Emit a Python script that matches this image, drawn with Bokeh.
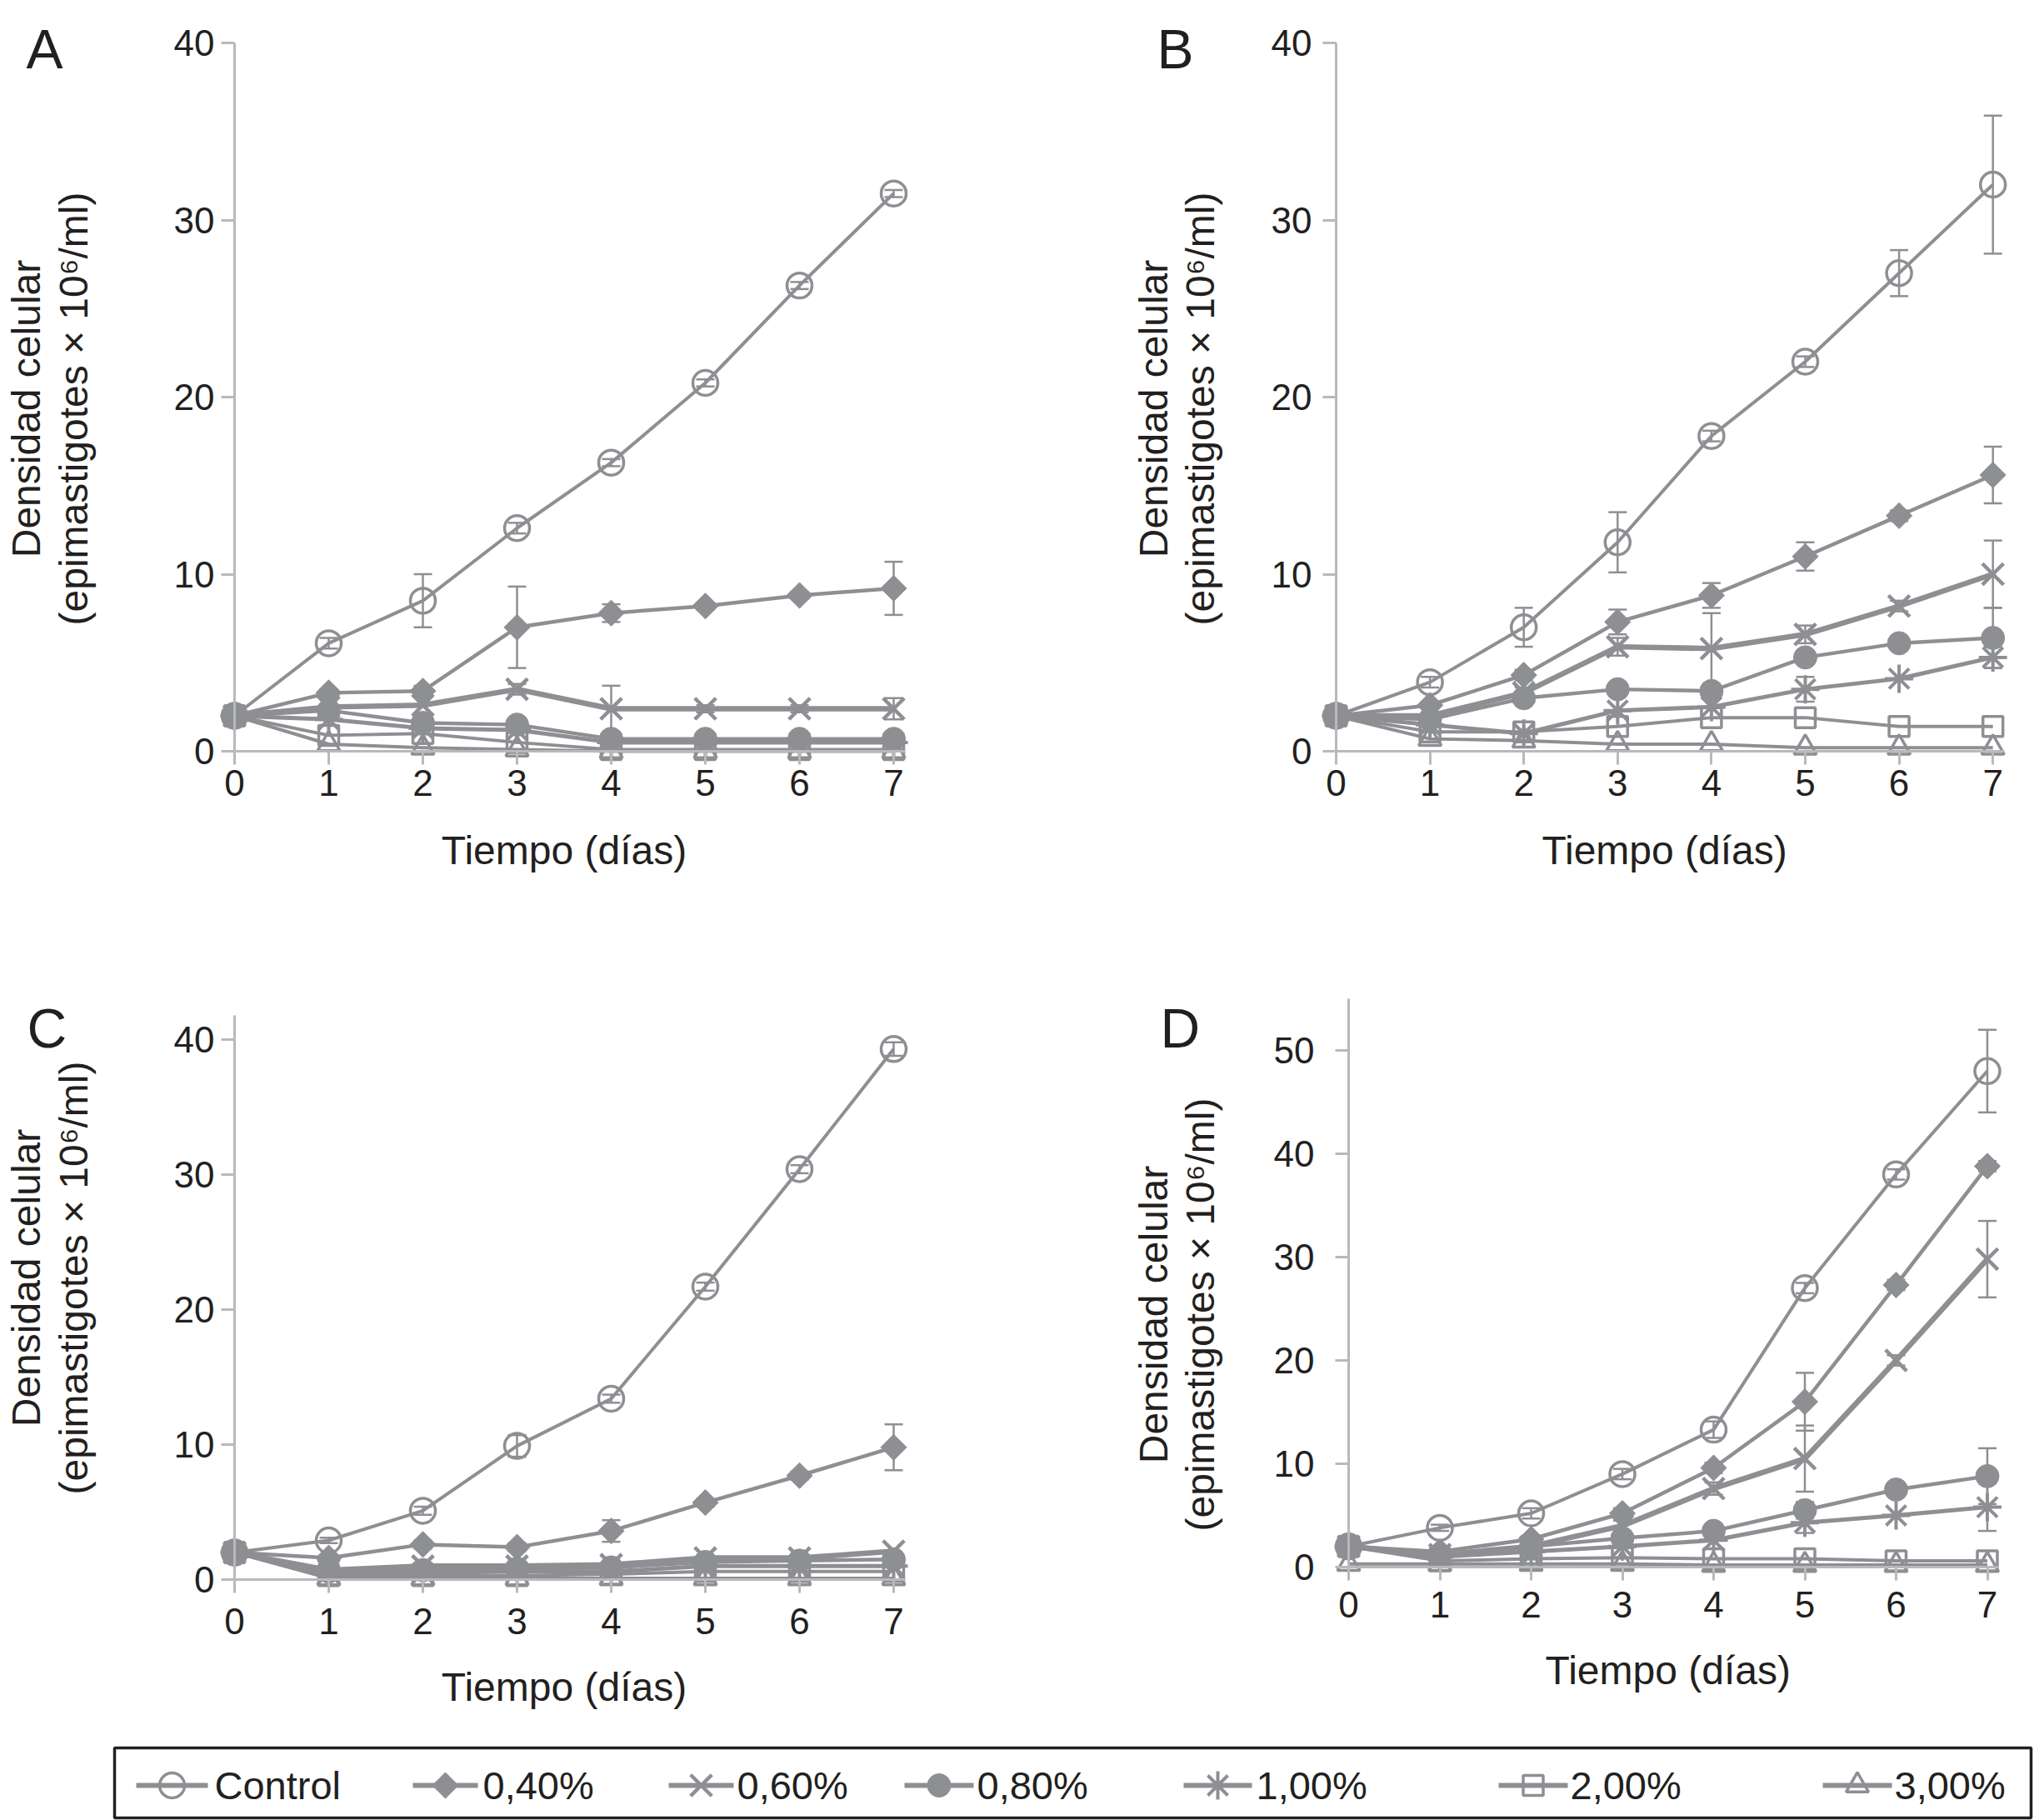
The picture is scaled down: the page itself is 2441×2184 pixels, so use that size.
import math
from bokeh.plotting import figure
from bokeh.models import (Range1d, LinearAxis, FixedTicker, Label, Whisker,
                          TeeHead, ColumnDataSource)
from bokeh.layouts import column, row
from bokeh.embed import file_html
from bokeh.resources import INLINE
from bokeh.core.properties import value

# ---------------- data ----------------
days = [0, 1, 2, 3, 4, 5, 6, 7]
series_labels = ["Control", "0,40%", "0,60%", "0,80%", "1,00%", "2,00%", "3,00%"]
y_ticks_40 = [0, 10, 20, 30, 40]
y_ticks_50 = [0, 10, 20, 30, 40, 50]
x_title = "Tiempo (días)"
y_title_1 = "Densidad celular"
y_title_2 = "(epimastigotes × 10⁶/ml)"
panel_letters = ["A", "B", "C", "D"]

# Panel A
a_control = [2.0, 6.1, 8.5, 12.6, 16.3, 20.8, 26.3, 31.5]
a_040 = [2.0, 3.3, 3.4, 7.0, 7.8, 8.2, 8.8, 9.2]
a_060 = [2.0, 2.5, 2.6, 3.5, 2.4, 2.4, 2.4, 2.4]
a_080 = [2.0, 2.3, 1.6, 1.5, 0.7, 0.7, 0.7, 0.7]
a_100 = [2.0, 1.8, 1.3, 1.2, 0.5, 0.5, 0.5, 0.5]
a_200 = [2.0, 0.9, 1.0, 0.5, 0.1, 0.1, 0.1, 0.1]
a_300 = [2.0, 0.4, 0.2, 0.1, 0.0, 0.0, 0.0, 0.0]
a_control_err = [0, 0.3, 1.5, 0.3, 0.2, 0.2, 0.2, 0.2]
a_040_err = [0, 0.2, 0.3, 2.3, 0.5, 0.2, 0.2, 1.5]
a_060_err = [0, 0, 0, 0.3, 1.3, 0.2, 0.2, 0.6]

# Panel B
b_control = [2.0, 3.9, 7.0, 11.8, 17.8, 22.0, 27.0, 32.0]
b_040 = [2.0, 2.6, 4.3, 7.3, 8.8, 11.0, 13.3, 15.6]
b_060 = [2.0, 2.0, 3.3, 5.9, 5.8, 6.6, 8.2, 10.0]
b_080 = [2.0, 1.8, 3.0, 3.5, 3.4, 5.3, 6.1, 6.4]
b_100 = [2.0, 1.5, 1.0, 2.3, 2.5, 3.5, 4.1, 5.3]
b_200 = [2.0, 1.1, 1.1, 1.4, 1.9, 1.9, 1.4, 1.4]
b_300 = [2.0, 0.7, 0.6, 0.4, 0.4, 0.2, 0.2, 0.2]
b_control_err = [0, 0.3, 1.1, 1.7, 0.3, 0.3, 1.3, 3.9]
b_040_err = [0, 0.2, 0.3, 0.7, 0.7, 0.8, 0.3, 1.6]
b_060_err = [0, 0.2, 0.3, 0.5, 2.0, 0.5, 0.3, 1.9]
b_080_err = [0, 0, 0, 0, 0, 0, 0, 1.7]
b_100_err = [0, 0, 0, 0, 0, 0.7, 0, 0.6]

# Panel C
c_control = [2.0, 2.9, 5.1, 9.9, 13.4, 21.7, 30.4, 39.3]
c_040 = [2.0, 1.6, 2.6, 2.4, 3.6, 5.7, 7.7, 9.8]
c_060 = [2.0, 0.7, 1.0, 1.0, 1.1, 1.6, 1.6, 2.1]
c_080 = [2.0, 0.6, 0.7, 0.8, 0.9, 1.3, 1.4, 1.5]
c_100 = [2.0, 0.5, 0.5, 0.6, 0.6, 1.0, 1.0, 1.0]
c_200 = [2.0, 0.3, 0.3, 0.3, 0.4, 0.6, 0.6, 0.6]
c_300 = [2.0, 0.1, 0.1, 0.1, 0.1, 0.1, 0.1, 0.1]
c_control_err = [0, 0.2, 0.3, 0.8, 0.3, 0.3, 0.3, 0.5]
c_040_err = [0, 0.2, 0.3, 0.3, 0.8, 0.3, 0.3, 1.7]

# Panel D
d_control = [2.0, 3.8, 5.2, 9.0, 13.3, 27.0, 38.0, 48.0]
d_040 = [2.0, 1.5, 2.7, 5.2, 9.6, 16.0, 27.3, 38.8]
d_060 = [2.0, 1.2, 2.0, 4.0, 7.6, 10.5, 20.0, 29.8]
d_080 = [2.0, 1.2, 2.0, 2.8, 3.5, 5.5, 7.5, 8.8]
d_100 = [2.0, 1.0, 1.5, 2.0, 2.6, 4.3, 5.0, 5.8]
d_200 = [2.0, 0.6, 0.8, 0.9, 0.8, 0.8, 0.6, 0.6]
d_300 = [0.3, 0.3, 0.3, 0.3, 0.2, 0.2, 0.2, 0.2]
d_control_err = [0, 0.3, 0.5, 0.5, 0.8, 0.5, 0.5, 4.0]
d_040_err = [0, 0.2, 0.3, 0.5, 0.5, 2.8, 0.5, 0.5]
d_060_err = [0, 0.2, 0.3, 0.5, 0.6, 3.2, 0.5, 3.7]
d_080_err = [0, 0, 0, 0, 0, 0.8, 0, 2.7]
d_100_err = [0, 0, 0, 0, 0, 1.0, 0, 2.3]

zeros = [0] * 8
panel_series = [
    [a_control, a_040, a_060, a_080, a_100, a_200, a_300],
    [b_control, b_040, b_060, b_080, b_100, b_200, b_300],
    [c_control, c_040, c_060, c_080, c_100, c_200, c_300],
    [d_control, d_040, d_060, d_080, d_100, d_200, d_300],
]
panel_errors = [
    [a_control_err, a_040_err, a_060_err, zeros, zeros, zeros, zeros],
    [b_control_err, b_040_err, b_060_err, b_080_err, b_100_err, zeros, zeros],
    [c_control_err, c_040_err, zeros, zeros, zeros, zeros, zeros],
    [d_control_err, d_040_err, d_060_err, d_080_err, d_100_err, zeros, zeros],
]

# ---------------- style / layout ----------------
GRAY = "#8e8f93"
AXIS = "#b9b9bb"
TXT = "#231f20"
FONT = "Liberation Sans"

# marker, filled, size, marker line width, series line width, angle
styles = [
    ("circle", False, 30, 3.5, 4, 0.0),
    ("square", True, 22, 1, 4.5, math.pi / 4),
    ("x", False, 36, 4.5, 6.5, 0.0),
    ("circle", True, 28, 1, 4.5, 0.0),
    ("asterisk", False, 34, 4, 5, 0.0),
    ("square", False, 24, 3.5, 4, 0.0),
    ("triangle", False, 27, 3.5, 4, 0.0),
]

# page-pixel layout of each panel (page origin = top-left of the picture)
specs = [
    dict(fig=(0, 0), size=(1220, 1088), origin=(281, 901), ux=113.0, uy=21.25,
         ybound=40, yticks=y_ticks_40, ystand=8, xstand=6,
         ytx=(31, 88), yty=490, xty=1020, let=(31, 58)),
    dict(fig=(1220, 0), size=(1221, 1088), origin=(1603, 901), ux=112.6, uy=21.25,
         ybound=40, yticks=y_ticks_40, ystand=13, xstand=6,
         ytx=(1384, 1440), yty=490, xty=1020, let=(1388, 58)),
    dict(fig=(0, 1088), size=(1220, 1000), origin=(281, 1895), ux=113.0, uy=16.2,
         ybound=41.8, yticks=y_ticks_40, ystand=8, xstand=18,
         ytx=(31, 88), yty=1533, xty=2024, let=(32, 1233)),
    dict(fig=(1220, 1088), size=(1221, 1000), origin=(1618, 1880), ux=109.5, uy=12.4,
         ybound=55, yticks=y_ticks_50, ystand=25, xstand=13,
         ytx=(1384, 1440), yty=1577, xty=2004, let=(1392, 1233)),
]


def build_panel(letter, series, errors, spec):
    fx, fy = spec["fig"]
    w, h = spec["size"]
    ox = spec["origin"][0] - fx
    oy = spec["origin"][1] - fy
    ux, uy = spec["ux"], spec["uy"]
    xr = Range1d(-ox / ux, (w - ox) / ux)
    yr = Range1d((oy - h) / uy, oy / uy)
    p = figure(width=w, height=h, x_range=xr, y_range=yr,
               x_axis_type=None, y_axis_type=None,
               toolbar_location=None, output_backend="svg", min_border=0)
    p.outline_line_color = None
    p.background_fill_color = "white"
    p.border_fill_color = "white"

    def dx(X):
        return (X - fx - ox) / ux

    def dy(Y):
        return (oy - (Y - fy)) / uy

    xa = LinearAxis(fixed_location=0, bounds=(0, 7.12),
                    ticker=FixedTicker(ticks=days, minor_ticks=[]))
    ya = LinearAxis(fixed_location=0, bounds=(0, spec["ybound"]),
                    ticker=FixedTicker(ticks=spec["yticks"], minor_ticks=[]))
    for ax, st in ((xa, spec["xstand"]), (ya, spec["ystand"])):
        ax.axis_line_color = AXIS
        ax.axis_line_width = 3
        ax.major_tick_line_color = AXIS
        ax.major_tick_line_width = 3
        ax.major_tick_out = 16
        ax.major_tick_in = 0
        ax.minor_tick_line_color = None
        ax.major_label_text_font = FONT
        ax.major_label_text_font_size = "44px"
        ax.major_label_text_color = TXT
        ax.major_label_standoff = st
    p.add_layout(xa, "below")
    p.add_layout(ya, "left")

    # error bars
    for vals, err in zip(series, errors):
        base = [d for d, e in zip(days, err) if e > 0]
        if not base:
            continue
        lo = [v - e for v, e in zip(vals, err) if e > 0]
        hi = [v + e for v, e in zip(vals, err) if e > 0]
        src = ColumnDataSource(dict(base=base, lower=lo, upper=hi))
        wk = Whisker(source=src, base="base", lower="lower", upper="upper",
                     line_color=GRAY, line_width=2.5,
                     upper_head=TeeHead(size=22, line_color=GRAY, line_width=2.5),
                     lower_head=TeeHead(size=22, line_color=GRAY, line_width=2.5))
        p.add_layout(wk)

    order = list(range(len(series)))[::-1]
    for i in order:
        p.line(days, series[i], line_color=GRAY, line_width=styles[i][4])
    for i in order:
        mk, filled, size, mlw, _, ang = styles[i]
        p.scatter(days, series[i], marker=mk, size=size, angle=ang, line_color=GRAY,
                  line_width=mlw, fill_color=GRAY if filled else None)

    # titles and panel letter
    for X, txt in zip(spec["ytx"], (y_title_1, y_title_2)):
        p.add_layout(Label(x=dx(X), y=dy(spec["yty"]), text=txt, angle=math.pi / 2,
                           text_align="center", text_baseline="middle",
                           text_font=FONT, text_font_size="48px", text_color=TXT))
    p.add_layout(Label(x=3.5, y=dy(spec["xty"]), text=x_title,
                       text_align="center", text_baseline="middle",
                       text_font=FONT, text_font_size="48px", text_color=TXT))
    p.add_layout(Label(x=dx(spec["let"][0]), y=dy(spec["let"][1]), text=letter,
                       text_align="left", text_baseline="alphabetic",
                       text_font=FONT, text_font_size="66px", text_color=TXT))
    return p


panels = [build_panel(l, s, e, sp) for l, s, e, sp in
          zip(panel_letters, panel_series, panel_errors, specs)]

# ---------------- legend strip ----------------
LW, LH, LTOP = 2441, 96, 2088
lg = figure(width=LW, height=LH, x_range=Range1d(0, LW), y_range=Range1d(0, LH),
            x_axis_type=None, y_axis_type=None, toolbar_location=None,
            output_backend="svg", min_border=0)
lg.outline_line_color = None


def lx(X):
    return X


def ly(Y):
    return LTOP + LH - Y


lg.quad(left=lx(137), right=lx(2437), bottom=ly(2181), top=ly(2097),
        fill_color=None, line_color=TXT, line_width=3.5)

legend_line_x0 = [163, 495, 802, 1085, 1420, 1798, 2187]
legend_line_x1 = [249, 573, 880, 1168, 1502, 1881, 2270]
legend_text_x = [257, 579, 884, 1172, 1507, 1884, 2273]
legend_y = 2142

for i in range(len(series_labels)):
    mk, filled, size, mlw, _, ang = styles[i]
    x0, x1 = lx(legend_line_x0[i]), lx(legend_line_x1[i])
    lg.line([x0, x1], [ly(legend_y)] * 2, line_color=GRAY, line_width=6)
    lg.scatter([(x0 + x1) / 2], [ly(legend_y)], marker=mk, size=size, angle=ang,
               line_color=GRAY, line_width=mlw, fill_color=GRAY if filled else None)
lg.text(x=[lx(v) for v in legend_text_x], y=[ly(legend_y)] * len(series_labels),
        text=series_labels, text_font=value(FONT), text_font_size="47px",
        text_baseline="middle", text_align="left", text_color=TXT)

layout = column(row(panels[0], panels[1]), row(panels[2], panels[3]), lg)
open("out.html", "w").write(file_html(layout, INLINE))
